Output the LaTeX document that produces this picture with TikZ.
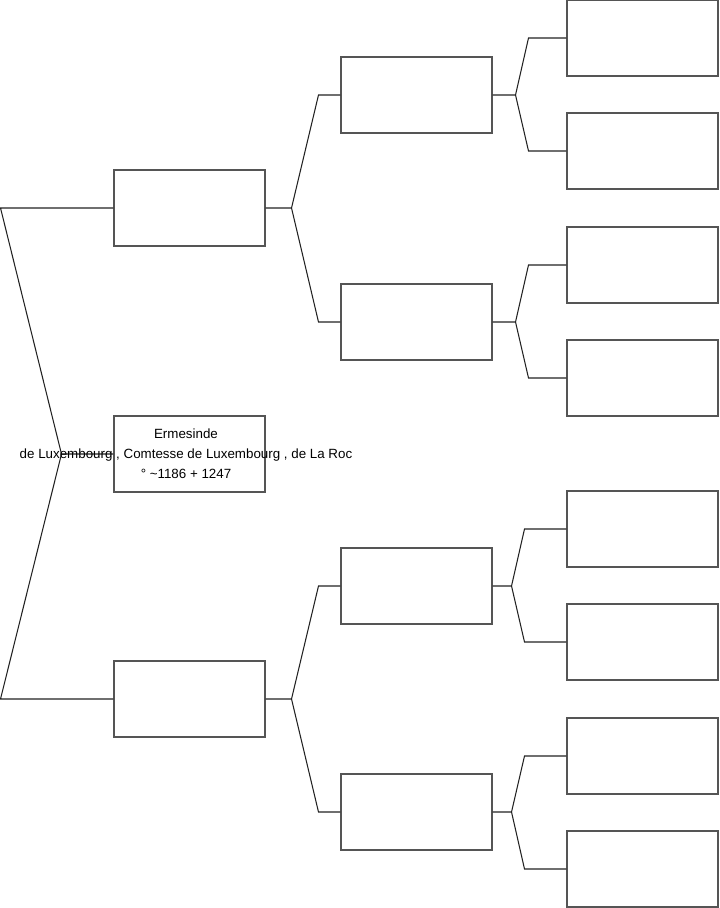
\documentclass[tikz,border=0pt]{standalone}
\usepackage{fontspec}
\setmainfont{Liberation Sans}
\usetikzlibrary{positioning, calc}
\definecolor{boxgrey}{HTML}{555555}
\definecolor{linegrey}{HTML}{222222}
\tikzset{
  personbox/.style={rectangle, draw=boxgrey, fill=white, line width=0.6pt,
                    minimum width=3.02cm, minimum height=1.52cm, inner sep=0pt},
  persontext/.style={align=center, inner sep=0pt,
                     font=\fontsize{7.6}{11.4}\selectfont},
  link/.style={draw=linegrey, line width=0.6pt},
}
\begin{document}
\begin{tikzpicture}[x=0.02cm, y=-0.02cm]
  \useasboundingbox (0,0) rectangle (719,908);

  % Generation 0: the proband
  \node[personbox] (root) at (189.5,454) {};

  % Generation 1: parents
  \node[personbox] (fa) at (189.5,208) {};
  \node[personbox] (mo) at (189.5,699) {};

  % Generation 2: grandparents
  \node[personbox] (fafa) at (416.5,95) {};
  \node[personbox] (famo) at (416.5,322) {};
  \node[personbox] (mofa) at (416.5,586) {};
  \node[personbox] (momo) at (416.5,812) {};

  % Generation 3: great-grandparents
  \node[personbox] (fafafa) at (642.5,38) {};
  \node[personbox] (fafamo) at (642.5,151) {};
  \node[personbox] (famofa) at (642.5,265) {};
  \node[personbox] (famomo) at (642.5,378) {};
  \node[personbox] (mofafa) at (642.5,529) {};
  \node[personbox] (mofamo) at (642.5,642) {};
  \node[personbox] (momofa) at (642.5,756) {};
  \node[personbox] (momomo) at (642.5,869) {};

  % Root fork
  \draw[link] (root.west) -- ++(-52,0) coordinate (rf)
    -- ([xshift=-2.26cm]fa.west) -- (fa.west);
  \draw[link] (rf) -- ([xshift=-2.26cm]mo.west) -- (mo.west);

  % Parent forks
  \draw[link] (fa.east) -- ++(26,0) coordinate (faf)
    -- ([xshift=-0.44cm]fafa.west) -- (fafa.west);
  \draw[link] (faf) -- ([xshift=-0.44cm]famo.west) -- (famo.west);
  \draw[link] (mo.east) -- ++(26,0) coordinate (mof)
    -- ([xshift=-0.44cm]mofa.west) -- (mofa.west);
  \draw[link] (mof) -- ([xshift=-0.44cm]momo.west) -- (momo.west);

  % Grandparent forks
  \draw[link] (fafa.east) -- ++(23,0) coordinate (fafaf)
    -- ([xshift=-0.76cm]fafafa.west) -- (fafafa.west);
  \draw[link] (fafaf) -- ([xshift=-0.76cm]fafamo.west) -- (fafamo.west);
  \draw[link] (famo.east) -- ++(23,0) coordinate (famof)
    -- ([xshift=-0.76cm]famofa.west) -- (famofa.west);
  \draw[link] (famof) -- ([xshift=-0.76cm]famomo.west) -- (famomo.west);
  \draw[link] (mofa.east) -- ++(19,0) coordinate (mofaf)
    -- ([xshift=-0.84cm]mofafa.west) -- (mofafa.west);
  \draw[link] (mofaf) -- ([xshift=-0.84cm]mofamo.west) -- (mofamo.west);
  \draw[link] (momo.east) -- ++(19,0) coordinate (momof)
    -- ([xshift=-0.84cm]momofa.west) -- (momofa.west);
  \draw[link] (momof) -- ([xshift=-0.84cm]momomo.west) -- (momomo.west);

  % Text goes over the root connector
  \node[persontext] (roottext) at ([xshift=-0.07cm]root.center)
    {Ermesinde\\de Luxembourg , Comtesse de Luxembourg , de La Roc\\° \textasciitilde1186 + 1247};
\end{tikzpicture}
\end{document}
